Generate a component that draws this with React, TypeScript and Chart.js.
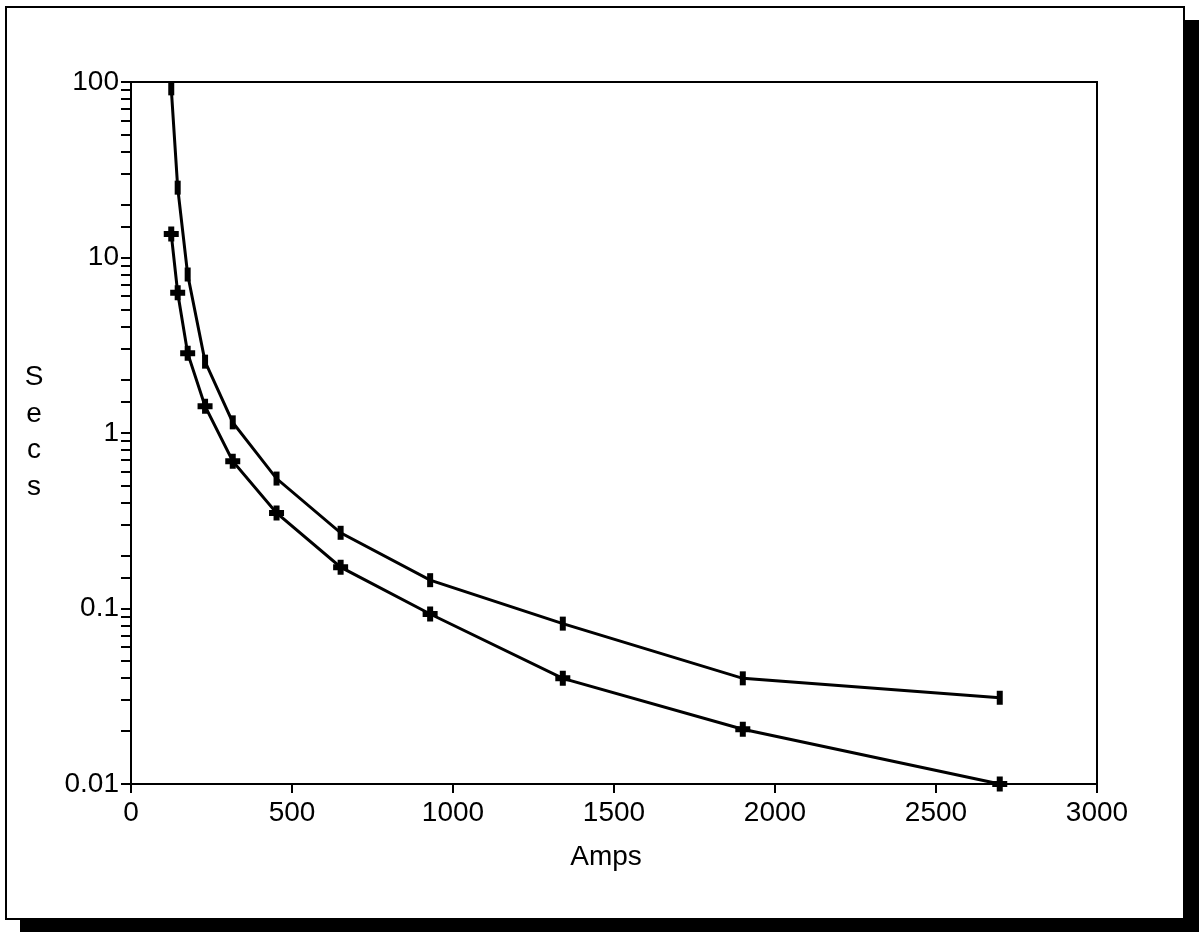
import React, { useEffect, useRef } from "react";
import { Chart, registerables } from "chart.js";

Chart.register(...registerables);

const ampsA = [125, 145, 176, 230, 316, 452, 651, 929, 1341, 1900, 2698];
const secsA = [92, 25, 8, 2.55, 1.15, 0.55, 0.27, 0.145, 0.082, 0.04, 0.031];
const ampsB = [125, 145, 176, 230, 316, 452, 651, 929, 1341, 1900, 2698];
const secsB = [13.6, 6.3, 2.85, 1.42, 0.69, 0.35, 0.172, 0.093, 0.04, 0.0205, 0.01];
const xTickValues = [0, 500, 1000, 1500, 2000, 2500, 3000];
const yAxisTitle = ["S", "e", "c", "s"];
const xAxisTitle = "Amps";

const FONT = "'Liberation Sans', Arial, Helvetica, sans-serif";

export default function App() {
  const ref = useRef<HTMLCanvasElement | null>(null);

  useEffect(() => {
    const canvas = ref.current;
    if (!canvas) return;

    const framePlugin = {
      id: "framePlugin",
      afterDraw(chart: any) {
        const { ctx, chartArea } = chart;
        ctx.save();
        ctx.strokeStyle = "#000";
        ctx.lineWidth = 2;
        ctx.strokeRect(chartArea.left, chartArea.top, chartArea.right - chartArea.left, chartArea.bottom - chartArea.top);
        ctx.fillStyle = "#000";
        ctx.font = `28px ${FONT}`;
        ctx.textAlign = "center";
        ctx.textBaseline = "middle";
        const ys = [377, 414, 450, 487];
        yAxisTitle.forEach((ch, i) => ctx.fillText(ch, 34, ys[i]));
        ctx.fillText(xAxisTitle, 606, 857);
        ctx.restore();
      },
    };

    const chart = new Chart(canvas, {
      type: "line",
      data: {
        datasets: [
          {
            label: "A",
            data: ampsA.map((x, i) => ({ x, y: secsA[i] })),
            borderColor: "#000",
            borderWidth: 3,
            pointStyle: "line",
            rotation: 90,
            pointRadius: 7,
            pointBorderWidth: 6,
            pointBorderColor: "#000",
            pointBackgroundColor: "#000",
            clip: false,
            tension: 0,
          } as any,
          {
            label: "B",
            data: ampsB.map((x, i) => ({ x, y: secsB[i] })),
            borderColor: "#000",
            borderWidth: 3,
            pointStyle: "cross",
            pointRadius: 7.5,
            pointBorderWidth: 6,
            pointBorderColor: "#000",
            pointBackgroundColor: "#000",
            clip: false,
            tension: 0,
          } as any,
        ],
      },
      options: {
        responsive: false,
        animation: false,
        devicePixelRatio: 1,
        layout: { padding: { left: 0, top: 82, right: 102, bottom: 0 } },
        plugins: { legend: { display: false }, tooltip: { enabled: false } },
        scales: {
          x: {
            type: "linear",
            min: 0,
            max: 3000,
            afterFit: (s: any) => {
              s.height = 148;
            },
            afterBuildTicks: (s: any) => {
              s.ticks = xTickValues.map((v) => ({ value: v }));
            },
            ticks: {
              color: "#000",
              font: { family: FONT, size: 28 },
              padding: 3,
              maxRotation: 0,
              autoSkip: false,
              callback: (v: any) => String(Number(v)),
            },
            grid: { drawOnChartArea: false, color: "#000", lineWidth: 2, tickLength: 9 },
            border: { display: true, color: "#000", width: 2 },
          },
          y: {
            type: "logarithmic",
            min: 0.01,
            max: 100,
            afterFit: (s: any) => {
              s.width = 131;
            },
            ticks: {
              color: "#000",
              font: { family: FONT, size: 28 },
              padding: 2,
              autoSkip: false,
              callback: (v: any) => {
                const l = Math.log10(Number(v));
                return Math.abs(l - Math.round(l)) < 1e-6 ? String(Number(v)) : "";
              },
            },
            grid: { drawOnChartArea: false, color: "#000", lineWidth: 2, tickLength: 10 },
            border: { display: true, color: "#000", width: 2 },
          },
        },
      } as any,
      plugins: [framePlugin],
    });

    return () => chart.destroy();
  }, []);

  return (
    <div style={{ position: "fixed", left: 0, top: 0, width: 1199, height: 932, background: "#fff", overflow: "hidden" }}>
      <div style={{ position: "absolute", left: 1185, top: 20, width: 14, height: 912, background: "#000" }} />
      <div style={{ position: "absolute", left: 20, top: 920, width: 1179, height: 12, background: "#000" }} />
      <div
        style={{
          position: "absolute",
          left: 5,
          top: 6,
          width: 1180,
          height: 914,
          boxSizing: "border-box",
          border: "2px solid #000",
          background: "#fff",
        }}
      />
      <canvas ref={ref} width={1199} height={932} style={{ position: "absolute", left: 0, top: 0, width: 1199, height: 932 }} />
    </div>
  );
}
